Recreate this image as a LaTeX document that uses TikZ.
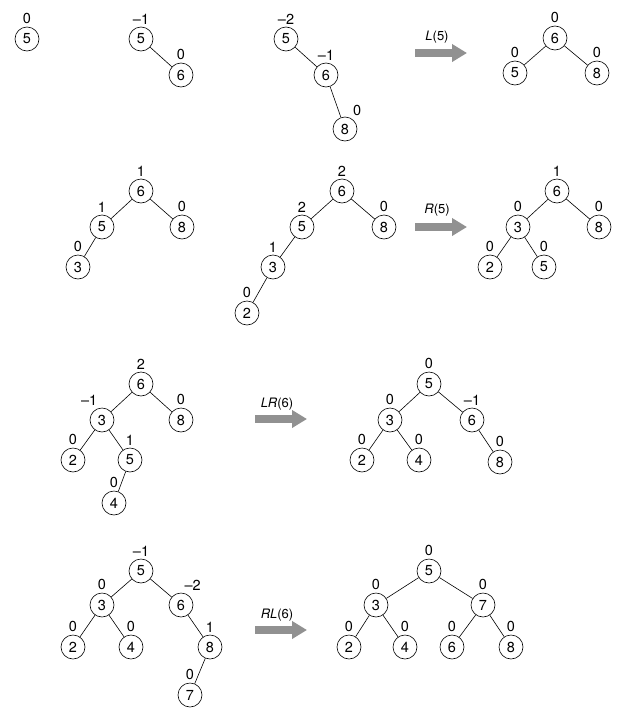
\documentclass[tikz,border=0pt]{standalone}
\usepackage{fontspec}
\setmainfont{TeX Gyre Heros}
\usepackage{xcolor}
\definecolor{arrowgray}{RGB}{145, 145, 145}
\usetikzlibrary{arrows.meta}
\tikzset{
  avl/.style={circle,draw,line width=0.6pt,minimum size=24pt,
    inner sep=0pt,font=\fontsize{14.5}{14.5}\selectfont},
  bal/.style={font=\fontsize{14.5}{14.5}\selectfont,inner sep=1pt},
  link/.style={line width=0.6pt},
  rot/.style={line width=8pt,arrowgray,
    -{Triangle[length=15pt,width=17pt]}},
  rotname/.style={font=\fontsize{13}{13}\selectfont,inner sep=0pt}
}

\begin{document}
\begin{tikzpicture}[x=1pt,y=-1pt,label distance=1.5pt]
\useasboundingbox
  (0,0) rectangle (630,715);

% row 1
\node[avl,label={[bal]above:0}] (a5) at (27,39) {5};

\node[avl,label={[bal]above:–1}] (b5) at (141,39) {5};
\node[avl,label={[bal]above:0}] (b6) at (181,75) {6};
\draw[link] (b5) -- (b6);

\node[avl,label={[bal]above:–2}] (c5) at (286,39) {5};
\node[avl,label={[bal]above:–1}] (c6) at (326,75) {6};
\node[avl,label={[bal]60:0}] (c8) at (345,129) {8};
\draw[link] (c5) -- (c6) -- (c8);

\coordinate (r1s) at (415,53);
\coordinate (r1e) at (467,53);
\draw[rot] (r1s) -- (r1e);
\node[rotname] (r1) at (437,37) {\textit{L}(5)};

\node[avl,label={[bal]above:0}] (d6) at (555,38) {6};
\node[avl,label={[bal]above:0}] (d5) at (515,73) {5};
\node[avl,label={[bal]above:0}] (d8) at (597,73) {8};
\draw[link] (d5) -- (d6) -- (d8);

% row 2
\node[avl,label={[bal]above:1}] (e6) at (141,191) {6};
\node[avl,label={[bal]above:1}] (e5) at (102,227) {5};
\node[avl,label={[bal]above:0}] (e8) at (182,227) {8};
\node[avl,label={[bal]above:0}] (e3) at (78,267) {3};
\draw[link] (e3) -- (e5) -- (e6) -- (e8);

\node[avl,label={[bal]above:2}] (f6) at (342,191) {6};
\node[avl,label={[bal]above:2}] (f5) at (302,227) {5};
\node[avl,label={[bal]above:0}] (f8) at (384,227) {8};
\node[avl,label={[bal]above:1}] (f3) at (273,267) {3};
\node[avl,label={[bal]above:0}] (f2) at (247,313) {2};
\draw[link] (f2) -- (f3) -- (f5) -- (f6) -- (f8);

\coordinate (r2s) at (415,227);
\coordinate (r2e) at (467,227);
\draw[rot] (r2s) -- (r2e);
\node[rotname] (r2) at (437,210) {\textit{R}(5)};

\node[avl,label={[bal]above:1}] (g6) at (557,191) {6};
\node[avl,label={[bal]above:0}] (g3) at (518,227) {3};
\node[avl,label={[bal]above:0}] (g8) at (599,227) {8};
\node[avl,label={[bal]above:0}] (g2) at (490,267) {2};
\node[avl,label={[bal]above:0}] (g5) at (544,267) {5};
\draw[link] (g2) -- (g3) -- (g6) -- (g8);
\draw[link] (g3) -- (g5);

% row 3
\node[avl,label={[bal]above:2}] (h6) at (141,384) {6};
\node[avl,label={[bal]105:–1}] (h3) at (102,420) {3};
\node[avl,label={[bal]above:0}] (h8) at (181,420) {8};
\node[avl,label={[bal]above:0}] (h2) at (73,460) {2};
\node[avl,label={[bal]above:1}] (h5) at (130,460) {5};
\node[avl,label={[bal]above:0}] (h4) at (114,503) {4};
\draw[link] (h2) -- (h3) -- (h6) -- (h8);
\draw[link] (h3) -- (h5) -- (h4);

\coordinate (r3s) at (255,419);
\coordinate (r3e) at (307,419);
\draw[rot] (r3s) -- (r3e);
\node[rotname] (r3) at (277,404) {\textit{LR}(6)};

\node[avl,label={[bal]above:0}] (i5) at (429,384) {5};
\node[avl,label={[bal]above:0}] (i3) at (390,420) {3};
\node[avl,label={[bal]above:–1}] (i6) at (472,420) {6};
\node[avl,label={[bal]above:0}] (i2) at (362,460) {2};
\node[avl,label={[bal]above:0}] (i4) at (419,460) {4};
\node[avl,label={[bal]above:0}] (i8) at (500,462) {8};
\draw[link] (i2) -- (i3) -- (i5) -- (i6) -- (i8);
\draw[link] (i3) -- (i4);

% row 4
\node[avl,label={[bal]above:–1}] (j5) at (141,571) {5};
\node[avl,label={[bal]above:0}] (j3) at (102,605) {3};
\node[avl,label={[bal]80:–2}] (j6) at (181,605) {6};
\node[avl,label={[bal]above:0}] (j2) at (73,647) {2};
\node[avl,label={[bal]above:0}] (j4) at (131,647) {4};
\node[avl,label={[bal]above:1}] (j8) at (210,647) {8};
\node[avl,label={[bal]above:0}] (j7) at (190,695) {7};
\draw[link] (j2) -- (j3) -- (j5) -- (j6) -- (j8) -- (j7);
\draw[link] (j3) -- (j4);

\coordinate (r4s) at (255,630);
\coordinate (r4e) at (307,630);
\draw[rot] (r4s) -- (r4e);
\node[rotname] (r4) at (277,615) {\textit{RL}(6)};

\node[avl,label={[bal]above:0}] (k5) at (429,571) {5};
\node[avl,label={[bal]above:0}] (k3) at (376,605) {3};
\node[avl,label={[bal]above:0}] (k7) at (483,605) {7};
\node[avl,label={[bal]above:0}] (k2) at (349,647) {2};
\node[avl,label={[bal]above:0}] (k4) at (405,647) {4};
\node[avl,label={[bal]above:0}] (k6) at (452,647) {6};
\node[avl,label={[bal]above:0}] (k8) at (511,647) {8};
\draw[link] (k2) -- (k3) -- (k5) -- (k7) -- (k8);
\draw[link] (k3) -- (k4);
\draw[link] (k7) -- (k6);
\end{tikzpicture}
\end{document}
